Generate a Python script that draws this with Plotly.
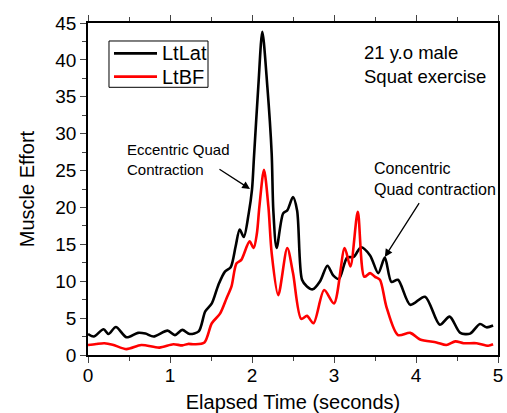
import plotly.graph_objects as go

# LtLat (black) series
lat_t = [0.00, 0.07, 0.19, 0.25, 0.34, 0.47, 0.61, 0.70, 0.80, 0.97, 1.06, 1.15, 1.24, 1.35,
         1.43, 1.51, 1.59, 1.67, 1.74, 1.80, 1.85, 1.90, 1.96, 2.00, 2.025, 2.077, 2.126,
         2.187, 2.24, 2.26, 2.30, 2.38, 2.43, 2.50, 2.55, 2.61, 2.67, 2.74, 2.83, 2.92, 2.99,
         3.06, 3.16, 3.24, 3.33, 3.44, 3.54, 3.62, 3.70, 3.78, 3.93, 4.11, 4.29, 4.41, 4.54,
         4.66, 4.78, 4.86, 4.94]
lat_v = [2.85, 2.5, 3.5, 2.85, 3.8, 2.4, 3.0, 2.9, 2.5, 3.3, 2.7, 3.4, 2.85, 3.2,
         5.9, 7.0, 9.5, 11.3, 11.9, 14.7, 17.0, 16.0, 19.2, 22.4, 27.0, 36.4, 43.8,
         36.4, 27.3, 19.6, 14.5, 19.2, 19.6, 21.4, 19.6, 10.2, 9.3, 8.9, 10.0, 12.1, 10.8,
         10.3, 13.2, 13.3, 14.6, 13.5, 11.1, 13.2, 9.9, 10.2, 6.8, 7.9, 4.1, 5.2, 3.0,
         2.9, 4.2, 3.75, 4.0]

# LtBF (red) series
bf_t = [0.00, 0.10, 0.20, 0.30, 0.47, 0.65, 0.87, 1.04, 1.15, 1.22, 1.30, 1.42, 1.51, 1.61,
        1.69, 1.75, 1.81, 1.87, 1.97, 2.02, 2.06, 2.09, 2.146, 2.20, 2.24, 2.32, 2.43, 2.50,
        2.60, 2.67, 2.75, 2.88, 3.00, 3.13, 3.20, 3.29, 3.37, 3.44, 3.50, 3.56, 3.64, 3.78,
        3.93, 4.05, 4.25, 4.37, 4.48, 4.58, 4.74, 4.88, 4.94]
bf_v = [1.35, 1.5, 1.6, 1.4, 0.8, 1.35, 1.0, 1.45, 1.3, 1.5, 1.45, 1.7, 4.3, 5.6,
        7.7, 9.3, 12.4, 12.9, 15.4, 14.5, 16.5, 20.1, 25.1, 20.1, 13.8, 8.1, 14.5, 11.1,
        4.9, 5.3, 4.3, 8.8, 7.0, 14.5, 12.0, 19.4, 10.6, 11.1, 10.6, 10.2, 6.5, 2.7,
        3.0, 2.1, 1.7, 1.35, 1.85, 1.6, 1.6, 1.26, 1.45]

series_names = ["LtLat", "LtBF"]
series_colors = ["black", "#ff0000"]

x_ticks = [0, 1, 2, 3, 4, 5]
y_ticks = [0, 5, 10, 15, 20, 25, 30, 35, 40, 45]

FONT = "Liberation Sans, Arial, sans-serif"

fig = go.Figure()
fig.add_trace(go.Scatter(x=lat_t, y=lat_v, mode="lines", name=series_names[0],
                         line=dict(color=series_colors[0], width=2.6, shape="spline", smoothing=0.8)))
fig.add_trace(go.Scatter(x=bf_t, y=bf_v, mode="lines", name=series_names[1],
                         line=dict(color=series_colors[1], width=2.6, shape="spline", smoothing=0.8)))

fig.update_layout(
    width=507, height=413,
    margin=dict(l=88, r=9, t=23, b=58),
    paper_bgcolor="white", plot_bgcolor="white",
    font=dict(family=FONT, color="black"),
    showlegend=False,
    xaxis=dict(range=[0, 5], tickvals=x_ticks, ticks="outside", ticklen=6,
               showline=True, linecolor="black", linewidth=1.5, mirror="ticks",
               showgrid=False, zeroline=False, automargin=False,
               tickfont=dict(size=19), ticklabelstandoff=-4,
               minor=dict(dtick=0.5, ticks="outside", ticklen=4, showgrid=False),
               title=dict(text="Elapsed Time (seconds)", font=dict(size=20), standoff=11)),
    yaxis=dict(range=[0, 45], tickvals=y_ticks, ticks="outside", ticklen=6,
               showline=True, linecolor="black", linewidth=1.5, mirror=True,
               showgrid=False, zeroline=False, automargin=False,
               tickfont=dict(size=19),
               minor=dict(dtick=2.5, ticks="outside", ticklen=4, showgrid=False),
               title=dict(text="Muscle Effort", font=dict(size=20), standoff=15)),
)

# legend box (drawn like the original's framed legend)
fig.add_shape(type="rect", xref="paper", yref="paper", x0=0.0512, x1=0.2927, y0=0.8063, y1=0.9458,
              line=dict(color="black", width=1), fillcolor="white", layer="above")
leg_rows = [0.9087, 0.8384]
for name, color, yy in zip(series_names, series_colors, leg_rows):
    fig.add_shape(type="line", xref="paper", yref="paper", x0=0.0634, x1=0.1683, y0=yy, y1=yy,
                  line=dict(color=color, width=2.8), layer="above")
    fig.add_annotation(x=0.1756, y=yy, xref="paper", yref="paper", text=name, showarrow=False,
                       xanchor="left", yanchor="middle", font=dict(size=20))

fig.add_annotation(x=3.34, y=39.4, xref="x", yref="y", text="21 y.o male<br>Squat exercise",
                   showarrow=False, xanchor="left", yanchor="middle", align="left",
                   font=dict(size=18.5))
fig.add_annotation(x=0.451, y=26.5, xref="x", yref="y", text="Eccentric Quad<br>Contraction",
                   showarrow=False, xanchor="left", yanchor="middle", align="left",
                   font=dict(size=15))
fig.add_annotation(x=3.46, y=23.9, xref="x", yref="y", text="Concentric<br>Quad contraction",
                   showarrow=False, xanchor="left", yanchor="middle", align="left",
                   font=dict(size=16))
# arrows
fig.add_annotation(x=1.976, y=22.5, ax=1.585, ay=25.3, xref="x", yref="y", axref="x", ayref="y",
                   text="", showarrow=True, arrowhead=2, arrowsize=1.2, arrowwidth=1.3,
                   arrowcolor="black", standoff=0)
fig.add_annotation(x=3.62, y=13.3, ax=4.05, ay=20.8, xref="x", yref="y", axref="x", ayref="y",
                   text="", showarrow=True, arrowhead=2, arrowsize=1.2, arrowwidth=1.3,
                   arrowcolor="black", standoff=0)

fig.write_html("out.html", config={"displayModeBar": False},
               post_script="document.body.style.margin='0';")
